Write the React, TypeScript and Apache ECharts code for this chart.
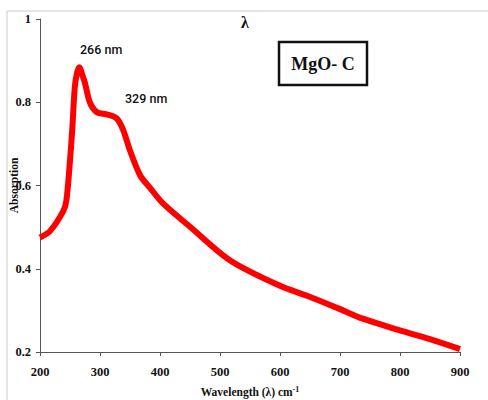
import React, { useEffect, useRef } from "react";
import * as echarts from "echarts";

const wavelength = [200, 217, 239, 244, 250, 254, 258, 262, 266, 270, 275, 283, 295, 311, 328, 339, 350, 367, 383, 405, 450, 517, 600, 645, 700, 738, 800, 850, 900];
const absorbance = [0.475, 0.491, 0.539, 0.564, 0.66, 0.74, 0.836, 0.872, 0.884, 0.868, 0.846, 0.80, 0.776, 0.771, 0.761, 0.732, 0.684, 0.624, 0.595, 0.557, 0.501, 0.42, 0.359, 0.335, 0.303, 0.28, 0.252, 0.231, 0.207];
const xTicks = { min: 200, max: 900, step: 100 };
const yTicks = { min: 0.2, max: 1, step: 0.2 };
const peakLabels = ["266 nm", "329 nm"];

export default function App() {
  const ref = useRef<HTMLDivElement>(null);
  useEffect(() => {
    const chart = echarts.init(ref.current!, undefined, { renderer: "svg" });
    const serif = "'Liberation Serif', 'Times New Roman', serif";
    chart.setOption({
      animation: false,
      backgroundColor: "#fff",
      grid: { left: 40, right: 28, top: 19, bottom: 48, containLabel: false, outerBoundsMode: "none" },
      xAxis: {
        type: "value",
        min: xTicks.min,
        max: xTicks.max,
        interval: xTicks.step,
        axisLine: { show: true, lineStyle: { color: "#555", width: 1 } },
        axisTick: { show: true, length: 4, lineStyle: { color: "#555" } },
        splitLine: { show: false },
        axisLabel: { color: "#111", fontFamily: serif, fontWeight: "bold", fontSize: 12.5, margin: 13 },
        name: "Wavelength (λ) cm{sup|-1}",
        nameLocation: "middle",
        nameGap: 33,
        nameMoveOverlap: false,
        nameTextStyle: {
          color: "#111",
          fontFamily: serif,
          fontWeight: "bold",
          fontSize: 11.5,
          rich: {
            sup: { fontFamily: serif, fontWeight: "bold", fontSize: 8, verticalAlign: "top", padding: [0, 0, 6, 0], color: "#111" },
          },
        },
      },
      yAxis: {
        type: "value",
        min: yTicks.min,
        max: yTicks.max,
        interval: yTicks.step,
        axisLine: { show: true, lineStyle: { color: "#555", width: 1 } },
        axisTick: { show: true, length: 4, lineStyle: { color: "#555" } },
        splitLine: { show: false },
        axisLabel: {
          color: "#111",
          fontFamily: serif,
          fontWeight: "bold",
          fontSize: 12.5,
          margin: 9,
          formatter: (v: number) => String(parseFloat(v.toFixed(1))),
        },
        name: "Absorption",
        nameLocation: "middle",
        nameGap: 20,
        nameRotate: 90,
        nameMoveOverlap: false,
        nameTextStyle: { color: "#111", fontFamily: serif, fontWeight: "bold", fontSize: 11.5 },
      },
      series: [
        {
          type: "line",
          data: wavelength.map((w, i) => [w, absorbance[i]]),
          smooth: 0.3,
          showSymbol: false,
          lineStyle: { color: "#ff0000", width: 6 },
          itemStyle: { color: "#ff0000" },
        },
      ],
      graphic: [
        { type: "line", shape: { x1: 7, y1: 11, x2: 488, y2: 11 }, style: { stroke: "#ccc", lineWidth: 1 } },
        { type: "line", shape: { x1: 7, y1: 11, x2: 7, y2: 400 }, style: { stroke: "#ccc", lineWidth: 1 } },
        { type: "text", left: 241, top: 14, style: { text: "λ", fontFamily: serif, fontWeight: "bold", fontSize: 16, fill: "#111" } },
        { type: "text", left: 80, top: 43, style: { text: peakLabels[0], fontFamily: "Roboto, sans-serif", fontWeight: 500, fontSize: 12.5, fill: "#111" } },
        { type: "text", left: 125, top: 92, style: { text: peakLabels[1], fontFamily: "Roboto, sans-serif", fontWeight: 500, fontSize: 12.5, fill: "#111" } },
        { type: "rect", shape: { x: 279, y: 42, width: 88, height: 43 }, style: { fill: "#fff", stroke: "#111", lineWidth: 2.5 } },
        { type: "text", x: 323, y: 64, style: { text: "MgO- C", fontFamily: serif, fontWeight: "bold", fontSize: 18, fill: "#111", align: "center", verticalAlign: "middle" } },
      ],
    });
    return () => chart.dispose();
  }, []);
  return <div ref={ref} style={{ position: "fixed", left: 0, top: 0, width: 488, height: 400 }} />;
}
